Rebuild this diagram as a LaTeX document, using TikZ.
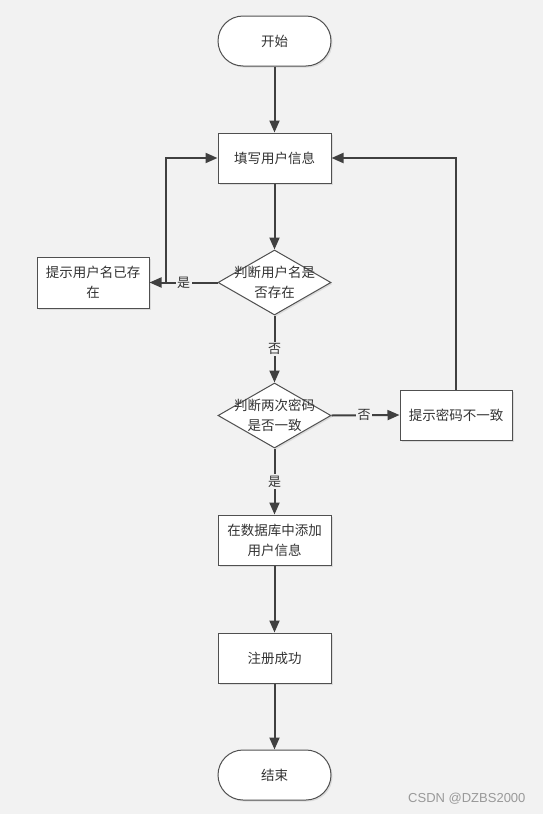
\documentclass[tikz,border=0pt]{standalone}
\usepackage{fontspec}
\newfontfamily\cjk{Noto Sans CJK SC}
\usetikzlibrary{arrows.meta,shapes.geometric,shadows}
\definecolor{bg}{HTML}{F2F2F2}
\definecolor{ln}{HTML}{404040}
\definecolor{bd}{HTML}{505050}
\begin{document}
\begin{tikzpicture}[x=1pt,y=-1pt,
  base/.style={draw=bd,line width=1pt,fill=white,font=\cjk\fontsize{13.5}{20}\selectfont,text=black!80,
    drop shadow={shadow xshift=1.5pt,shadow yshift=-1.5pt,opacity=0.2}},
  procbox/.style={base,rectangle,minimum width=113pt,minimum height=50pt,align=center,inner sep=2pt},
  termbox/.style={base,rectangle,rounded corners=25pt,minimum width=113pt,minimum height=50pt},
  decbox/.style={base,diamond,minimum width=113pt,minimum height=65pt,inner sep=0pt},
  dtext/.style={font=\cjk\fontsize{13.5}{20}\selectfont,text=black!80,align=center},
  conn/.style={draw=ln,line width=2pt,-{Triangle[width=10pt,length=12pt]}},
  lbl/.style={fill=bg,inner sep=1.5pt,font=\cjk\fontsize{13}{15}\selectfont,text=black!80}]
\fill[bg] (0,0) rectangle (543,814);
\useasboundingbox (0,0) rectangle (543,814);

\node[termbox] (start) at (274.5,41) {开始};
\node[procbox] (fill) at (274.5,158) {填写用户信息};
\node[decbox] (d1) at (274.5,282.5) {};
\node[dtext] at (d1) {判断用户名是\\否存在};
\node[procbox,minimum width=112pt,minimum height=51pt] (exist) at (93,282.5) {提示用户名已存\\在};
\node[decbox] (d2) at (274.5,415.5) {};
\node[dtext] at (d2) {判断两次密码\\是否一致};
\node[procbox,minimum width=112pt] (nomatch) at (456,415) {提示密码不一致};
\node[procbox] (add) at (274.5,540) {在数据库中添加\\用户信息};
\node[procbox] (ok) at (274.5,658) {注册成功};
\node[termbox] (end) at (274.5,775) {结束};

\coordinate (c1) at (166,282.5);
\coordinate (c2) at (166,158);
\coordinate (c3) at (456,158);

\draw[conn] (start) -- (fill);
\draw[conn] (fill) -- (d1);
\draw[conn] (d1.west) -- node[lbl,pos=0.5] {是} (exist.east);
\draw[conn] (c1) -- (c2) -- (fill.west);
\draw[conn] (d1.south) -- node[lbl,pos=0.5] {否} (d2.north);
\draw[conn] (d2.east) -- node[lbl,pos=0.48] {否} (nomatch.west);
\draw[conn] (nomatch.north) -- (c3) -- (fill.east);
\draw[conn] (d2.south) -- node[lbl,pos=0.5] {是} (add.north);
\draw[conn] (add) -- (ok);
\draw[conn] (ok) -- (end);

\node[font=\fontspec{Liberation Sans}\fontsize{13}{15}\selectfont,text=black!40,anchor=east] (wm) at (529,799) {CSDN @DZBS2000};
\end{tikzpicture}
\end{document}
